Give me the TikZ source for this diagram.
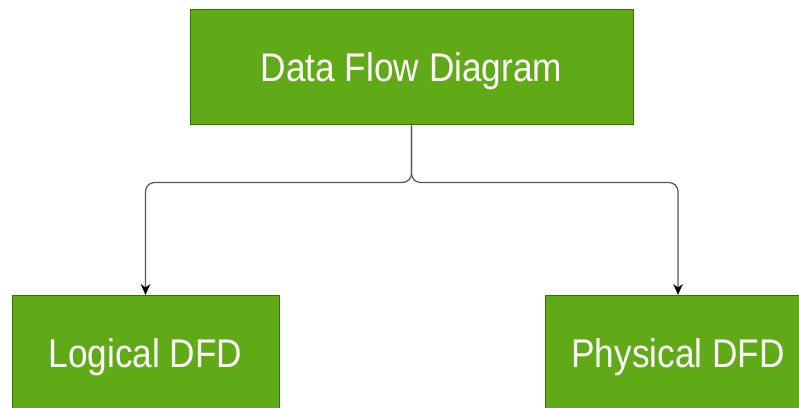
\documentclass[tikz,border=0pt]{standalone}
\usepackage{fontspec}
\newfontfamily\boxfont[FakeStretch=0.88]{Liberation Sans}
\usepackage{tikz}
\usetikzlibrary{arrows.meta,calc,positioning}
\definecolor{dfdgreen}{HTML}{60A917}
\definecolor{dfdedge}{HTML}{2D7600}
\definecolor{linkgray}{HTML}{555555}
\tikzset{
  >={Stealth[length=11pt,width=9.5pt,inset=3.5pt,black]},
  dfdbox/.style={rectangle, fill=dfdgreen, draw=dfdedge, line width=1pt,
                 text=white, font=\boxfont\fontsize{40}{48}\selectfont,
                 text height=28.6pt, text depth=0pt,
                 minimum height=115pt},
  link/.style={draw=linkgray, line width=1.2pt, rounded corners=9pt, ->}
}

\begin{document}
\begin{tikzpicture}[x=1pt,y=1pt]
  \useasboundingbox (0,0) rectangle (799,407);
  \clip (0,0) rectangle (799,407);

  % Draw the three boxes.
  \node[dfdbox, minimum width=443pt] (dfd) at (411.5,339.5) {Data Flow Diagram};
  \node[dfdbox, minimum width=267pt] (logical) at (145.5,54) {Logical DFD};
  \node[dfdbox, minimum width=266pt] (physical) at (678,54) {Physical DFD};

  % Split point under the top box.
  \coordinate (split) at ($(dfd.south)+(0,-57)$);

  % Draw the links.
  \draw[link] (dfd.south) -- (split) -| (logical.north);
  \draw[link] (dfd.south) -- (split) -| (physical.north);
\end{tikzpicture}
\end{document}
